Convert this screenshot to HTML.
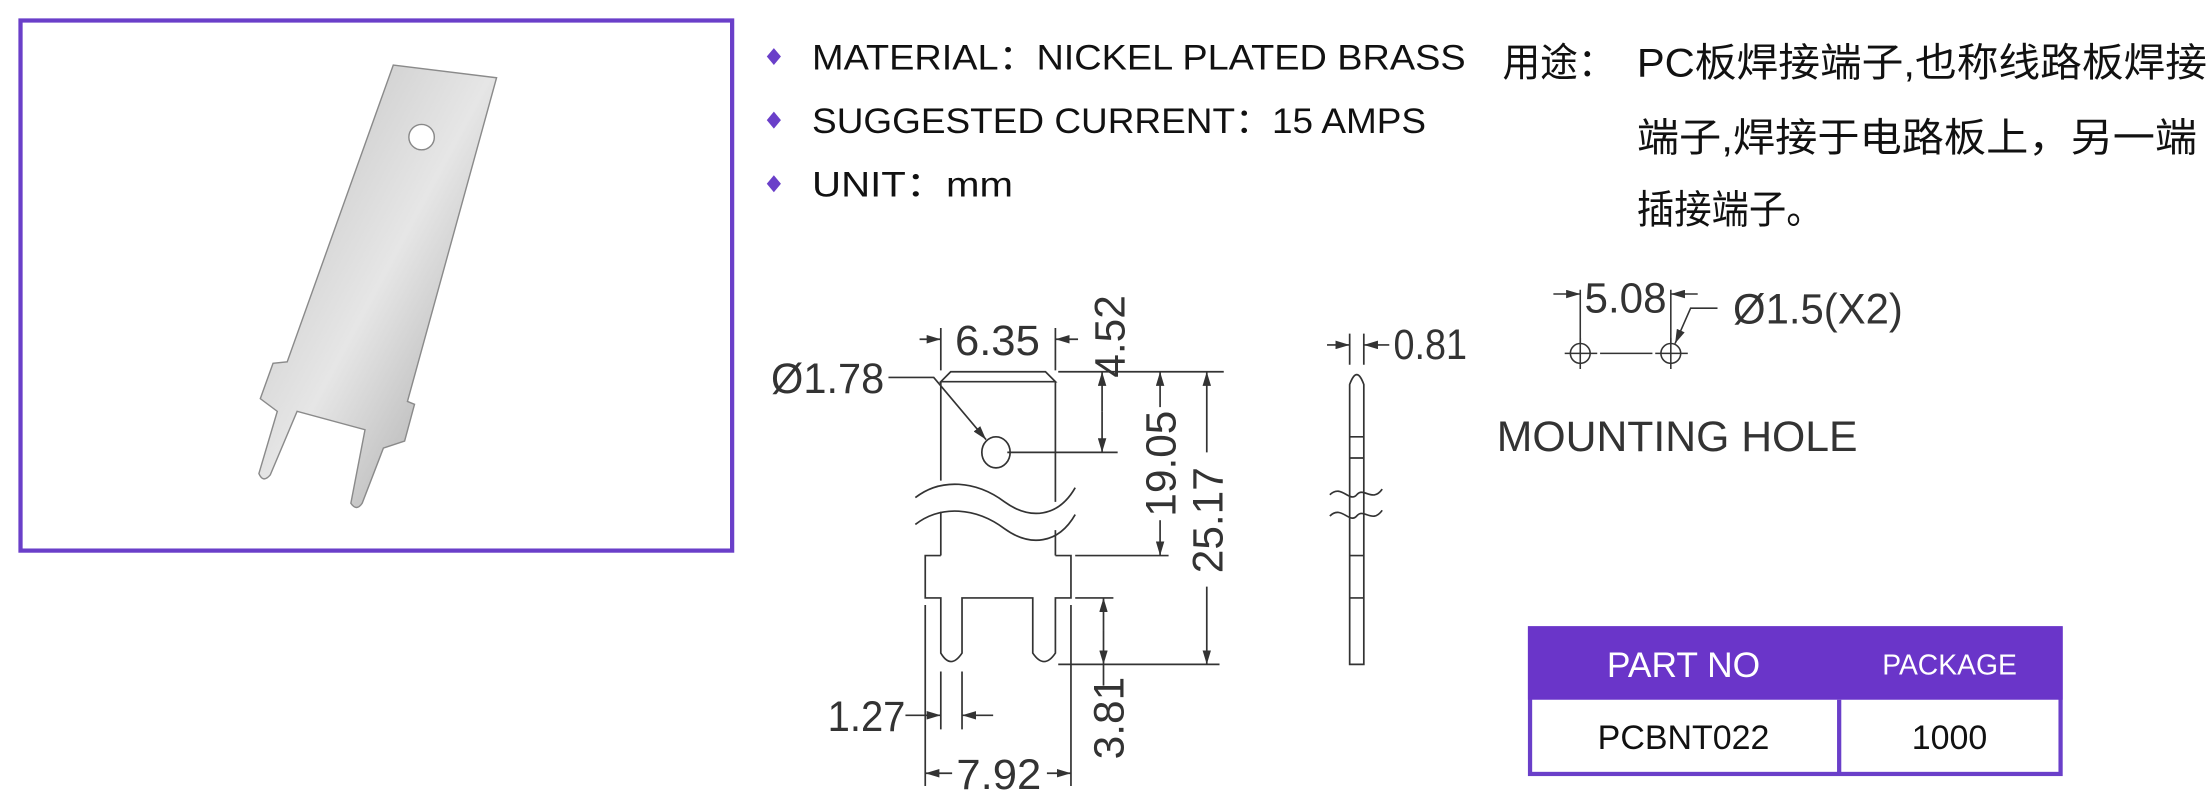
<!DOCTYPE html>
<html><head><meta charset="utf-8"><style>
html,body{margin:0;padding:0;background:#fff;}
svg{display:block}
</style></head><body>
<svg width="2207" height="810" viewBox="0 0 1560 573" preserveAspectRatio="none" xmlns="http://www.w3.org/2000/svg">
<defs>
<marker id="a" viewBox="0 0 10 6" refX="10" refY="3" markerWidth="10" markerHeight="6" orient="auto" markerUnits="userSpaceOnUse"><path d="M0,0 L10,3 L0,6 z" fill="#333"/></marker>
<linearGradient id="g" x1="0" y1="0" x2="1" y2="1">
<stop offset="0" stop-color="#bdbdbd"/><stop offset="0.5" stop-color="#e6e6e6"/><stop offset="1" stop-color="#9c9c9c"/></linearGradient>
</defs>
<rect x="14.5" y="14.5" width="503" height="375" fill="#fff" stroke="#6a3fc9" stroke-width="3"/>
<!-- photo pin -->
<path d="M278,46 L351,55 L288,284 L293,286 L286,312 L271,317 L256,356 Q252,362 248,356 L258,304 L210,291 L191,336 Q186,342 183,335 L196,291 L184,282 L193,257 L203,256 Z" fill="url(#g)" stroke="#8a8a8a" stroke-width="1"/>
<circle cx="298" cy="97" r="9" fill="#fff" stroke="#888"/>
<!-- bullets -->
<g fill="#6a3fc9"><path d="M547,34 l5,6 -5,6 -5,-6z"/><path d="M547,79 l5,6 -5,6 -5,-6z"/><path d="M547,124 l5,6 -5,6 -5,-6z"/></g>
<g font-family="Liberation Sans, sans-serif" font-size="25" fill="#111">
<text x="574" y="49" textLength="462" lengthAdjust="spacingAndGlyphs">MATERIAL：NICKEL PLATED BRASS</text>
<text x="574" y="94" textLength="434" lengthAdjust="spacingAndGlyphs">SUGGESTED CURRENT：15 AMPS</text>
<text x="574" y="139" textLength="142" lengthAdjust="spacingAndGlyphs">UNIT：mm</text>
</g>
<g font-family="Liberation Sans, Noto Sans CJK SC, sans-serif" font-size="28" fill="#111">
<text x="1062" y="54" textLength="80" lengthAdjust="spacingAndGlyphs">用途：</text>
<text x="1157" y="54" textLength="403" lengthAdjust="spacingAndGlyphs">PC板焊接端子,也称线路板焊接</text>
<text x="1157" y="107" textLength="396" lengthAdjust="spacingAndGlyphs">端子,焊接于电路板上，另一端</text>
<text x="1157" y="158" textLength="132" lengthAdjust="spacingAndGlyphs">插接端子。</text>
</g>
<!-- front view -->
<g fill="none" stroke="#333" stroke-width="1.2">
<path d="M665,270 L672,263 L739,263 L746,270 Z"/>
<path d="M665,270 L665,340 M746,270 L746,355 M665,362 L665,393 M746,375 L746,393"/>
<path d="M647,352 C665,338 690,340 710,355 C728,368 748,366 760,345"/>
<path d="M647,371 C665,357 690,359 710,374 C728,387 748,385 760,364"/>
<path d="M665,393 L654,393 L654,423 L665,423 L665,462 Q672,474 680,462 L680,423 L730,423 L730,462 Q738,474 746,462 L746,423 L757,423 L757,393 L746,393"/>
<ellipse cx="704" cy="320" rx="10" ry="11"/>
<!-- ext lines -->
<path d="M665,262 V232 M746,262 V232 M748,263 H865 M712,320 H790 M760,393 H826 M748,470 H862 M760,423 H787"/>
<path d="M654,428 V556 M757,428 V556 M665,475 V516 M680,475 V516"/>
</g>
<g fill="none" stroke="#333" stroke-width="1.2">
<line x1="650" y1="240" x2="665" y2="240" marker-end="url(#a)"/>
<line x1="762" y1="240" x2="746" y2="240" marker-end="url(#a)"/>
<line x1="779" y1="291" x2="779" y2="263" marker-end="url(#a)"/>
<line x1="779" y1="291" x2="779" y2="320" marker-end="url(#a)"/>
<line x1="820" y1="288" x2="820" y2="263" marker-end="url(#a)"/>
<line x1="820" y1="368" x2="820" y2="393" marker-end="url(#a)"/>
<line x1="853" y1="320" x2="853" y2="263" marker-end="url(#a)"/>
<line x1="853" y1="415" x2="853" y2="470" marker-end="url(#a)"/>
<line x1="780" y1="446" x2="780" y2="423" marker-end="url(#a)"/>
<line x1="780" y1="446" x2="780" y2="470" marker-end="url(#a)"/>
<line x1="780" y1="470" x2="780" y2="485"/>
<line x1="640" y1="506" x2="665" y2="506" marker-end="url(#a)"/>
<line x1="702" y1="506" x2="680" y2="506" marker-end="url(#a)"/>
<line x1="673" y1="547" x2="654" y2="547" marker-end="url(#a)"/>
<line x1="740" y1="547" x2="757" y2="547" marker-end="url(#a)"/>
<polyline points="628,267 660,267 697,311" marker-end="url(#a)"/>
</g>
<g font-family="Liberation Sans, sans-serif" font-size="30" fill="#333">
<text x="675" y="251" textLength="60" lengthAdjust="spacingAndGlyphs">6.35</text>
<text x="545" y="278" textLength="80" lengthAdjust="spacingAndGlyphs">Ø1.78</text>
<text x="585" y="517" textLength="55" lengthAdjust="spacingAndGlyphs">1.27</text>
<text x="676" y="558" textLength="60" lengthAdjust="spacingAndGlyphs">7.92</text>
<text x="985" y="254" textLength="52" lengthAdjust="spacingAndGlyphs">0.81</text>
<text transform="translate(795,238) rotate(-90)" text-anchor="middle">4.52</text>
<text transform="translate(831,328) rotate(-90)" text-anchor="middle">19.05</text>
<text transform="translate(864,368) rotate(-90)" text-anchor="middle">25.17</text>
<text transform="translate(794,508) rotate(-90)" text-anchor="middle">3.81</text>
</g>
<!-- side view -->
<g fill="none" stroke="#333" stroke-width="1.2">
<path d="M954,470 L954,272 Q959,258 964,272 L964,470 Z"/>
<path d="M954,309 H964 M954,324 H964 M954,393 H964 M954,423 H964"/>
<path d="M940,350 C948,342 954,356 959,350 C964,344 970,356 977,346"/>
<path d="M940,365 C948,357 954,371 959,365 C964,359 970,371 977,361"/>
<path d="M954,236 V258 M964,236 V258"/>
<line x1="938" y1="244" x2="954" y2="244" marker-end="url(#a)"/>
<line x1="982" y1="244" x2="964" y2="244" marker-end="url(#a)"/>
</g>
<!-- mounting hole -->
<g fill="none" stroke="#333" stroke-width="1.1">
<circle cx="1117" cy="250" r="7"/><circle cx="1181" cy="250" r="7"/>
<path d="M1106,250 H1129 M1117,239 V261 M1170,250 H1193 M1181,239 V261 M1131,250 H1168"/>
<path d="M1117,205 V243 M1181,205 V243"/>
<line x1="1098" y1="208" x2="1117" y2="208" marker-end="url(#a)"/>
<line x1="1200" y1="208" x2="1181" y2="208" marker-end="url(#a)"/>
<polyline points="1214,218 1195,218 1184,243" marker-end="url(#a)"/>
</g>
<g font-family="Liberation Sans, sans-serif" font-size="30" fill="#333">
<text x="1120" y="221" textLength="58" lengthAdjust="spacingAndGlyphs">5.08</text>
<text x="1225" y="229" textLength="120" lengthAdjust="spacingAndGlyphs">Ø1.5(X2)</text>
<text x="1058" y="319" textLength="255" lengthAdjust="spacingAndGlyphs">MOUNTING  HOLE</text>
</g>
<!-- table -->
<rect x="1081.5" y="444.5" width="375" height="103" fill="#fff" stroke="#6a3fc9" stroke-width="3"/>
<rect x="1080" y="443" width="378" height="52" fill="#6a35c9"/>
<line x1="1300" y1="495" x2="1300" y2="548" stroke="#6a3fc9" stroke-width="3"/>
<g font-family="Liberation Sans, sans-serif" text-anchor="middle">
<text x="1190" y="479" font-size="25" fill="#fff">PART NO</text>
<text x="1378" y="477" font-size="20" fill="#fff">PACKAGE</text>
<text x="1190" y="530" font-size="24" fill="#111">PCBNT022</text>
<text x="1378" y="530" font-size="24" fill="#111">1000</text>
</g>
</svg>
</body></html>
